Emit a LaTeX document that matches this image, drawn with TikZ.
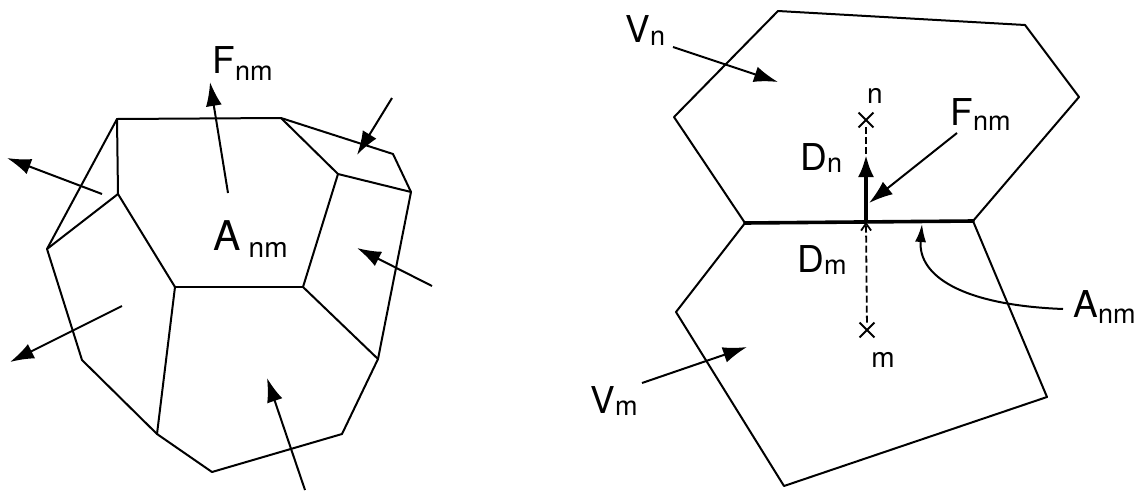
\documentclass[tikz,border=0pt]{standalone}
\usepackage{fontspec}
\setmainfont{TeX Gyre Heros}
\usetikzlibrary{%
  arrows.meta,
  shapes.misc
}

\tikzset{
  edge/.style      = {line width=1pt, line join=round, line cap=round},
  interface/.style = {line width=1.8pt, line cap=round},
  force/.style     = {line width=1pt, -{Latex[length=12pt, width=8pt]}},
  flux/.style      = {line width=1.8pt, -{Latex[length=11pt, width=8pt]}},
  bent/.style      = {line width=1pt, -{Latex[length=9pt, width=5.5pt]}},
  dist/.style      = {line width=0.9pt, dash pattern=on 3.5pt off 1.5pt},
  lbl/.style       = {anchor=base west, inner sep=0pt, font=\fontsize{18.5}{18.5}\selectfont},
  ptlbl/.style     = {anchor=base, inner sep=0pt, font=\fontsize{14}{14}\selectfont},
  crossmark/.style = {cross out, draw, line width=0.9pt, minimum size=6.5pt, inner sep=0pt}
}
\newcommand{\lab}[3][2.5pt]{#2\raisebox{-#1}{\fontsize{13.5}{13.5}\selectfont #3}}

\begin{document}
\begin{tikzpicture}[x=0.5pt, y=-0.5pt]
    \useasboundingbox (0,0) rectangle (1141,493);

    % cell with its faces
    \coordinate (A) at (117,119);  \coordinate (B) at (281,118);
    \coordinate (C) at (393,154);  \coordinate (D) at (411,192);
    \coordinate (E) at (338,174);  \coordinate (F) at (118,194);
    \coordinate (G) at (47,249);   \coordinate (H) at (175,287);
    \coordinate (I) at (303,287);  \coordinate (J) at (378,359);
    \coordinate (K) at (342,434);  \coordinate (L) at (212,472);
    \coordinate (M) at (157,434);  \coordinate (N) at (82,360);

    \draw [edge] (A) -- (B) -- (C) -- (D) -- (J) -- (K) -- (L) -- (M) -- (N) -- (G) -- cycle;
    \foreach \a/\b in {A/F, F/G, F/H, H/I, I/E, E/B, E/D, I/J, H/M}
      \draw [edge] (\a) -- (\b);

    % face fluxes
    \coordinate (t1) at (228,193);  \coordinate (h1) at (210,82);
    \coordinate (t2) at (392,98);   \coordinate (h2) at (357,155);
    \coordinate (t3) at (102,194);  \coordinate (h3) at (7,158);
    \coordinate (t4) at (432,286);  \coordinate (h4) at (357,248);
    \coordinate (t5) at (122,306);  \coordinate (h5) at (10,362);
    \coordinate (t6) at (305,490);  \coordinate (h6) at (267,378);
    \foreach \i in {1,...,6}
      \draw [force] (t\i) -- (h\i);

    \node [lbl] (fnmL) at (212,73) {\lab[3.5pt]{F}{nm}};
    \node [lbl, font=\fontsize{20.5}{20.5}\selectfont] (anmL) at (213,250)
          {A\hspace{4pt}\raisebox{-3.5pt}{\fontsize{14}{14}\selectfont nm}};

    % two neighbouring cells
    \coordinate (U1) at (778,11);   \coordinate (U2) at (1025,25);
    \coordinate (U3) at (1079,97);  \coordinate (U4) at (973,221);
    \coordinate (U5) at (745,223);  \coordinate (U6) at (674,117);
    \coordinate (W3) at (1047,397); \coordinate (W4) at (784,486);
    \coordinate (W5) at (676,312);

    \draw [edge] (U5) -- (U6) -- (U1) -- (U2) -- (U3) -- (U4);
    \draw [edge] (U5) -- (W5) -- (W4) -- (W3) -- (U4);
    \draw [interface] (U5) -- (U4);

    \node [crossmark] (cn) at (866,120) {};
    \node [crossmark] (cm) at (867,330) {};
    \node [ptlbl] (nlab) at (875,103) {n};
    \node [ptlbl] (mlab) at (883,367) {m};

    \coordinate (o)  at (866,222);
    \coordinate (dn) at (866,155);
    \draw [dist] (cn) -- (dn);
    \draw [dist, -{Straight Barb[length=3.5pt, width=5pt]}] (cm) -- (o);
    \draw [flux] (o) -- (dn);

    \node [lbl] (vn)   at (625,42)   {\lab[1.5pt]{V}{n}};
    \node [lbl] (vm)   at (590,413)  {\lab[1pt]{V}{m}};
    \node [lbl] (fnmR) at (950,125)  {\lab[2.5pt]{F}{nm}};
    \node [lbl] (dnl)  at (800,170)  {\lab[1pt]{D}{n}};
    \node [lbl] (dml)  at (797,272)  {\lab[1pt]{D}{m}};
    \node [lbl] (anmR) at (1073,317) {\lab[3pt]{A}{nm}};

    \coordinate (tv) at (673,47);   \coordinate (hv) at (778,82);
    \coordinate (tw) at (642,383);  \coordinate (hw) at (747,347);
    \coordinate (tf) at (957,133);  \coordinate (hf) at (869,203);
    \coordinate (ta) at (1063,309); \coordinate (ha) at (922,224);
    \draw [force] (tv) -- (hv);
    \draw [force] (tw) -- (hw);
    \draw [force] (tf) -- (hf);
    \draw [bent] (ta) .. controls (960,305) and (918,275) .. (ha);
\end{tikzpicture}
\end{document}
